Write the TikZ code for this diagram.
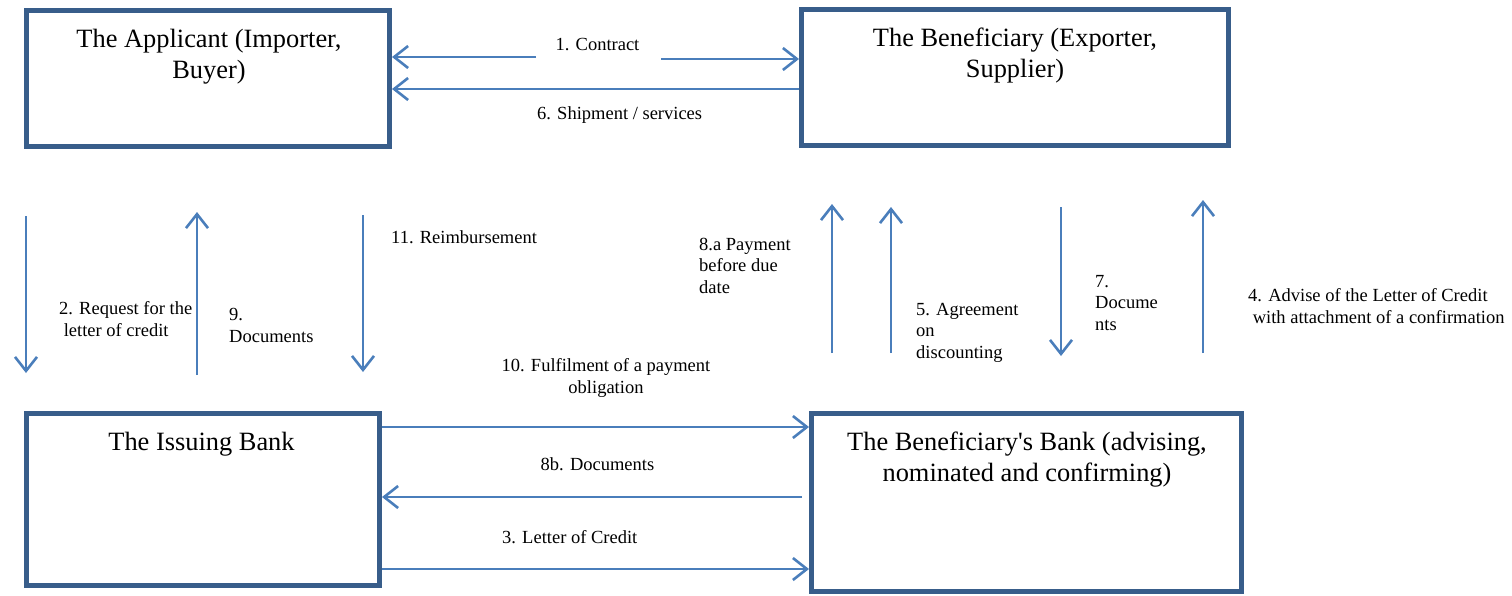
\documentclass[tikz,border=0pt]{standalone}
\usepackage{fontspec}
\setmainfont{Liberation Serif}
\usetikzlibrary{positioning}
\usetikzlibrary{arrows.meta}

\begin{document}
\begin{tikzpicture}[x=1pt,y=-1pt]
    \tikzset{
        party/.style={draw=Box_blue, line width=5pt, inner sep=0pt},
        title/.style={font=\fontsize{26.4}{31}\selectfont, align=center, anchor=base, inner sep=0pt},
        lbl/.style={font=\fontsize{18.5}{21.5}\selectfont, align=left, anchor=base west, inner sep=0pt},
        flow/.style={draw=Arrow_blue, line width=2.6pt, -{Straight Barb[length=14pt,width=22pt]}}
    }

    % Farben
    \definecolor{Box_blue}{RGB}{56,93,138}
    \definecolor{Arrow_blue}{RGB}{74,126,187}

    \useasboundingbox (0,0) rectangle (1512,595);

    % Parteien
    \node[party, minimum width=363pt, minimum height=136pt] (applicant) at (208,78.5) {};
    \node[party, minimum width=427pt, minimum height=136pt] (beneficiary) at (1015,77.5) {};
    \node[party, minimum width=353pt, minimum height=172pt] (issuing) at (203,499.5) {};
    \node[party, minimum width=430pt, minimum height=178pt] (benbank) at (1026.5,502.5) {};

    % (base = Grundlinie der letzten Zeile)
    \node[title] (applicantTxt) at (209,78) {The Applicant (Importer,\\Buyer)};
    \node[title] (beneficiaryTxt) at (1015,77) {The Beneficiary (Exporter,\\Supplier)};
    \node[title] (issuingTxt) at (201.5,450) {The Issuing Bank};
    \node[title] (benbankTxt) at (1027,481) {The Beneficiary\textquotesingle s Bank (advising,\\nominated and confirming)};

    % Oben: Vertrag und Lieferung
    \coordinate (contractL) at (536,57);
    \coordinate (contractR) at (661,59);
    \draw[flow] (contractL) -- (applicant.east |- contractL);
    \draw[flow] (contractR) -- (beneficiary.west |- contractR);
    \draw[flow] (beneficiary.west |- 0,89) -- (applicant.east |- 0,89);

    % Unten: Banken
    \coordinate (docsR) at (802,497);
    \draw[flow] (issuing.east |- 0,427) -- (benbank.west |- 0,427);
    \draw[flow] (docsR) -- (issuing.east |- docsR);
    \draw[flow] (issuing.east |- 0,569) -- (benbank.west |- 0,569);

    % Senkrechte Pfeile (nach unten)
    \foreach \x/\a/\b [count=\i] in {26/216/373, 363/215/372, 1061/207/356} {
        \coordinate (downTop\i) at (\x,\a);
        \coordinate (downBot\i) at (\x,\b);
        \draw[flow] (downTop\i) -- (downBot\i);
    }

    % Senkrechte Pfeile (nach oben)
    \foreach \x/\a/\b [count=\i] in {197/375/212, 832/353/204, 891/353/207, 1203/353/200} {
        \coordinate (upBot\i) at (\x,\a);
        \coordinate (upTop\i) at (\x,\b);
        \draw[flow] (upBot\i) -- (upTop\i);
    }

    % Beschriftungen
    \node[lbl, anchor=base] (contractLbl) at (597.5,50) {1. Contract};
    \node[lbl] (shipLbl) at (537,119) {6. Shipment / services};
    \node[lbl] (requestLbl) at (59,336) {2. Request for the\\\ letter of credit};
    \node[lbl] (docs9Lbl) at (229,342) {9.\\Documents};
    \node[lbl] (reimbLbl) at (391,243) {11. Reimbursement};
    \node[lbl] (pay8aLbl) at (699,293) {8.a Payment\\before due\\date};
    \node[lbl] (agreeLbl) at (916,358) {5. Agreement\\on\\discounting};
    \node[lbl] (docs7Lbl) at (1095,330) {7.\\Docume\\nts};
    \node[lbl] (adviseLbl) at (1248,323) {4. Advise of the Letter of Credit\\\ with attachment of a confirmation};
    \node[lbl, align=center, anchor=base] (fulfilLbl) at (606,393) {10. Fulfilment of a payment\\obligation};
    \node[lbl, anchor=base] (docs8bLbl) at (597.5,470) {8b. Documents};
    \node[lbl] (locLbl) at (502,543) {3. Letter of Credit};

\end{tikzpicture}
\end{document}
